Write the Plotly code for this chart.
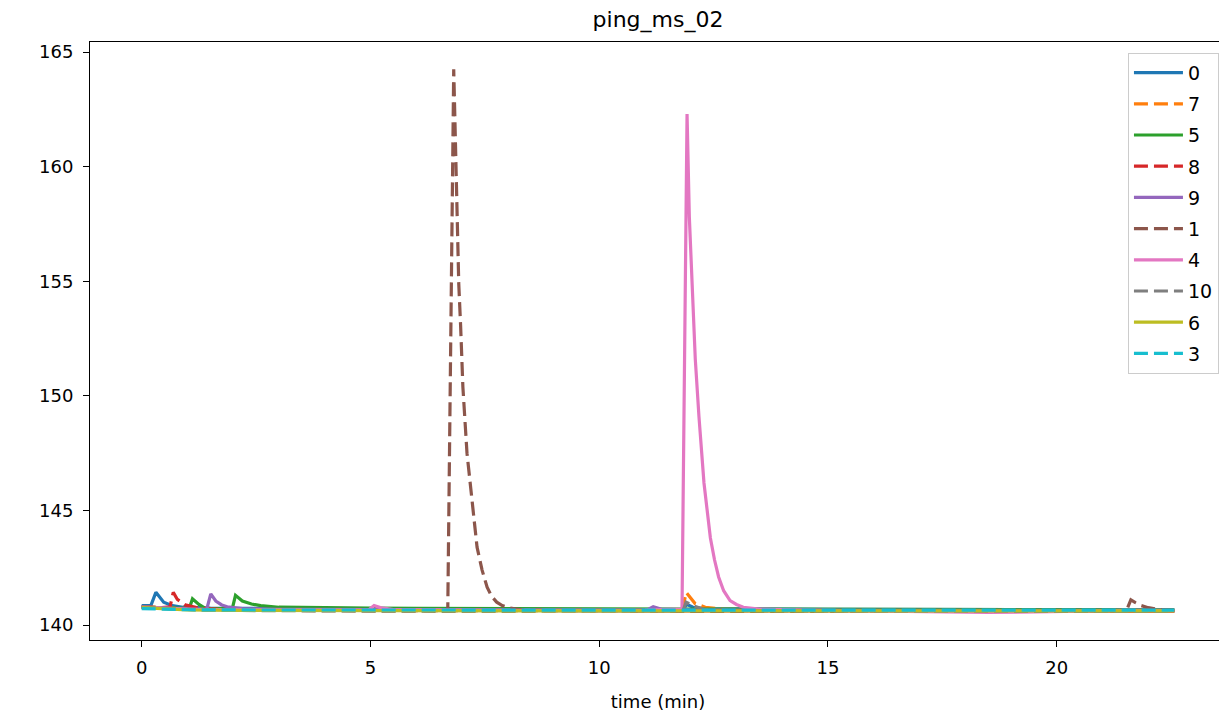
import plotly.graph_objects as go

# ---------------- data ----------------
series_names = ["0", "7", "5", "8", "9", "1", "4", "10", "6", "3"]

t_0 = [0.0, 0.2, 0.31, 0.48, 0.67, 0.9, 1.5, 2.5, 3.5, 4.5, 5.5, 6.5, 7.5, 8.5, 9.5, 10.5, 11.3,
       11.82, 11.92, 12.05, 12.3, 13.0, 14.0, 15.0, 16.0, 17.0, 18.0, 19.0, 20.0, 21.0, 22.0, 22.57]
y_0 = [140.85, 140.85, 141.43, 141.0, 140.85, 140.78, 140.74, 140.72, 140.71, 140.71, 140.7, 140.69,
       140.69, 140.68, 140.68, 140.68, 140.68, 140.68, 140.9, 140.78, 140.72, 140.7, 140.7, 140.69,
       140.69, 140.68, 140.68, 140.67, 140.67, 140.66, 140.66, 140.65]

t_7 = [0.0, 1.0, 2.0, 3.0, 4.0, 5.0, 6.0, 7.0, 8.0, 9.0, 10.0, 11.0, 11.82, 11.9, 12.1, 12.32,
       12.7, 13.5, 15.0, 16.5, 18.0, 19.5, 21.0, 22.57]
y_7 = [140.8, 140.72, 140.68, 140.66, 140.65, 140.65, 140.64, 140.64, 140.65, 140.64, 140.64,
       140.65, 140.66, 141.43, 140.93, 140.78, 140.7, 140.67, 140.66, 140.65, 140.64, 140.64,
       140.63, 140.62]

t_5 = [0.0, 0.5, 1.04, 1.11, 1.25, 1.4, 1.98, 2.05, 2.2, 2.4, 2.6, 3.0, 4.0, 5.0, 6.0, 7.0, 8.0,
       9.0, 10.0, 11.0, 12.0, 13.0, 14.0, 15.0, 16.0, 17.0, 18.0, 19.0, 20.0, 21.0, 22.0, 22.57]
y_5 = [140.78, 140.75, 140.72, 141.15, 140.9, 140.72, 140.72, 141.3, 141.05, 140.92, 140.85,
       140.78, 140.75, 140.74, 140.73, 140.72, 140.72, 140.71, 140.7, 140.7, 140.7, 140.7, 140.7,
       140.69, 140.69, 140.68, 140.68, 140.68, 140.67, 140.67, 140.67, 140.66]

t_8 = [0.0, 0.4, 0.62, 0.69, 0.78, 0.95, 1.2, 1.6, 2.5, 3.5, 5.0, 6.5, 8.0, 9.5, 11.0, 12.0,
       12.5, 14.0, 15.5, 17.0, 18.5, 20.0, 21.5, 22.57]
y_8 = [140.8, 140.76, 140.8, 141.43, 141.12, 140.88, 140.76, 140.7, 140.67, 140.65, 140.64,
       140.63, 140.63, 140.62, 140.62, 140.63, 140.6, 140.62, 140.62, 140.61, 140.61, 140.62,
       140.62, 140.61]

t_9 = [0.0, 0.7, 1.42, 1.51, 1.62, 1.75, 1.87, 2.2, 3.0, 4.0, 5.5, 7.0, 8.5, 10.0, 11.05, 11.18,
       11.35, 12.0, 13.5, 15.0, 16.5, 18.0, 19.5, 21.0, 22.57]
y_9 = [140.8, 140.72, 140.68, 141.36, 141.05, 140.88, 140.8, 140.72, 140.69, 140.68, 140.67,
       140.66, 140.66, 140.65, 140.66, 140.8, 140.7, 140.66, 140.65, 140.65, 140.64, 140.64,
       140.64, 140.65, 140.64]

t_1 = [0.0, 1.0, 2.0, 3.0, 4.0, 5.0, 6.0, 6.69, 6.82, 6.86, 6.89, 6.93, 6.97, 7.02, 7.11, 7.22,
       7.33, 7.44, 7.55, 7.65, 7.76, 7.88, 8.05, 8.3, 9.0, 10.0, 11.0, 12.0, 13.0, 14.0, 15.0,
       16.0, 17.0, 18.0, 19.0, 20.0, 21.0, 21.52, 21.62, 21.72, 21.85, 22.0, 22.25, 22.57]
y_1 = [140.78, 140.68, 140.65, 140.63, 140.62, 140.62, 140.62, 140.65, 164.25, 160.7, 157.8,
       154.9, 153.1, 150.4, 147.5, 145.3, 143.4, 142.4, 141.65, 141.25, 141.0, 140.85, 140.74,
       140.67, 140.63, 140.62, 140.6, 140.6, 140.6, 140.6, 140.6, 140.6, 140.58, 140.58, 140.58,
       140.58, 140.6, 140.62, 141.1, 140.98, 140.85, 140.76, 140.68, 140.64]

t_4 = [0.0, 1.0, 2.0, 3.0, 4.0, 4.95, 5.08, 5.25, 5.5, 6.5, 8.0, 9.5, 11.0, 11.81, 11.92, 11.97,
       12.04, 12.1, 12.18, 12.29, 12.43, 12.52, 12.61, 12.72, 12.86, 13.0, 13.15, 13.5, 14.5,
       15.5, 16.5, 17.5, 18.5, 19.5, 20.5, 21.5, 22.57]
y_4 = [140.78, 140.7, 140.67, 140.66, 140.65, 140.65, 140.85, 140.75, 140.68, 140.65, 140.64,
       140.64, 140.65, 140.7, 162.3, 157.8, 154.3, 151.6, 149.1, 146.2, 143.8, 142.85, 142.1,
       141.5, 141.07, 140.9, 140.78, 140.7, 140.65, 140.62, 140.58, 140.55, 140.55, 140.58,
       140.62, 140.64, 140.63]

t_10 = [0.0, 1.0, 2.0, 3.5, 5.0, 6.5, 8.0, 9.5, 11.0, 11.83, 11.9, 12.05, 12.3, 13.5, 15.0, 16.5,
        18.0, 19.5, 21.0, 22.57]
y_10 = [140.78, 140.68, 140.64, 140.62, 140.61, 140.6, 140.6, 140.6, 140.61, 140.62, 141.0,
        140.85, 140.68, 140.62, 140.61, 140.6, 140.6, 140.6, 140.6, 140.6]

t_6 = [0.0, 1.0, 2.0, 3.5, 5.0, 6.5, 8.0, 9.5, 11.0, 12.5, 14.0, 15.5, 17.0, 18.5, 20.0, 21.5,
       22.57]
y_6 = [140.76, 140.66, 140.64, 140.63, 140.63, 140.62, 140.62, 140.62, 140.62, 140.62, 140.62,
       140.62, 140.62, 140.62, 140.62, 140.62, 140.62]

t_3 = [0.0, 1.0, 2.0, 3.5, 5.0, 6.5, 8.0, 9.5, 11.0, 12.5, 14.0, 15.5, 17.0, 18.5, 20.0, 21.5,
       22.57]
y_3 = [140.72, 140.67, 140.66, 140.66, 140.66, 140.66, 140.66, 140.66, 140.66, 140.67, 140.66,
       140.66, 140.66, 140.66, 140.66, 140.66, 140.65]

series_t = [t_0, t_7, t_5, t_8, t_9, t_1, t_4, t_10, t_6, t_3]
series_y = [y_0, y_7, y_5, y_8, y_9, y_1, y_4, y_10, y_6, y_3]

x_ticks = [0, 5, 10, 15, 20]
y_ticks = [140, 145, 150, 155, 160, 165]

# ---------------- styles ----------------
colors = ["#1f77b4", "#ff7f0e", "#2ca02c", "#d62728", "#9467bd",
          "#8c564b", "#e377c2", "#7f7f7f", "#bcbd22", "#17becf"]
dashes = ["solid", "14px,6px", "solid", "14px,6px", "solid",
          "14px,6px", "solid", "14px,6px", "solid", "14px,6px"]

fig = go.Figure()
for name, tt, yy, c, d in zip(series_names, series_t, series_y, colors, dashes):
    fig.add_trace(go.Scatter(
        x=tt, y=yy, mode="lines", name=name, legendgroup=name,
        line=dict(color=c, width=3.2, dash=d),
    ))

axis_common = dict(showline=True, linecolor="black", linewidth=1, mirror=True,
                   ticks="outside", ticklen=6, tickwidth=1, tickcolor="black",
                   showgrid=False, zeroline=False, tickfont=dict(size=18, color="black"))

fig.update_xaxes(range=[-1.13, 23.7], tickvals=x_ticks, ticktext=[str(v) for v in x_ticks],
                 ticklabelstandoff=5,
                 title=dict(text="time (min)", standoff=18, font=dict(size=18, color="black")),
                 **axis_common)
fig.update_yaxes(range=[139.35, 165.44], tickvals=y_ticks, ticktext=[str(v) for v in y_ticks],
                 ticklabelstandoff=6, **axis_common)

# page body has an 8px margin: the figure is shifted accordingly
fig.update_layout(
    width=1219, height=710,
    margin=dict(l=82, r=1, t=34, b=78),
    paper_bgcolor="white", plot_bgcolor="white",
    font=dict(family="DejaVu Sans", size=18, color="black"),
    title=dict(text="ping_ms_02", x=0.5, xref="paper", xanchor="center",
               y=1 - 11 / 710, yref="container", yanchor="middle",
               font=dict(size=22, color="black")),
    legend=dict(x=0.9938, xanchor="right", y=0.982, yanchor="top",
                bordercolor="#cccccc", borderwidth=1, bgcolor="rgba(255,255,255,0.8)",
                font=dict(size=19), tracegroupgap=3.5, itemwidth=49, traceorder="grouped"),
)

fig.write_html("out.html")
